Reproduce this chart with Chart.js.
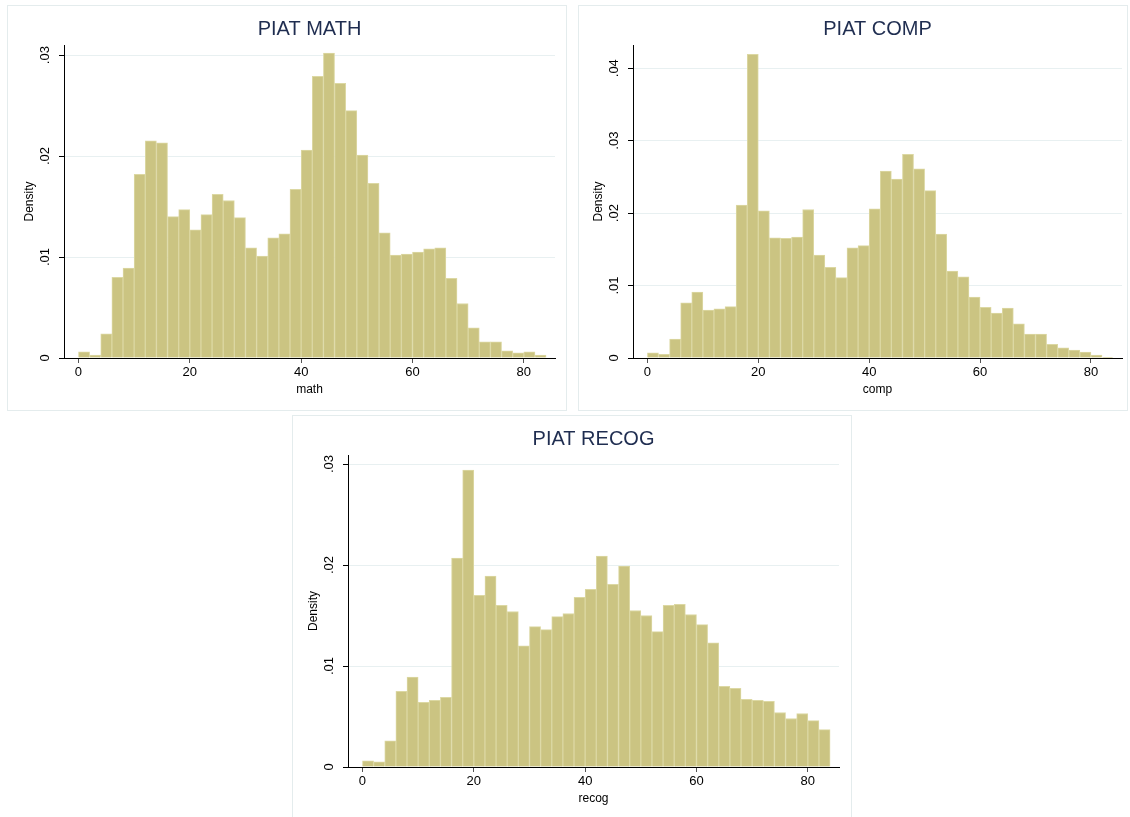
<!DOCTYPE html>
<html lang="en">
<head>
<meta charset="UTF-8" />
<title>PIAT histograms</title>
<script src="https://cdn.jsdelivr.net/npm/chart.js"></script>
<style>
  body { margin: 0; background: #fff; width: 1130px; height: 817px; position: relative; overflow: hidden; }
  .panel { position: absolute; border: 1px solid #e4eced; box-sizing: border-box; background: #fff; }
  .panel canvas { position: absolute; left: 0; top: 0; }
</style>
</head>
<body>
<div class="panel" id="p1" style="left:7px;top:5px;width:560px;height:406px"><canvas id="mathChart" width="560" height="406"></canvas></div>
<div class="panel" id="p2" style="left:578px;top:5px;width:550px;height:406px"><canvas id="compChart" width="550" height="406"></canvas></div>
<div class="panel" id="p3" style="left:292px;top:415px;width:560px;height:410px"><canvas id="recogChart" width="560" height="410"></canvas></div>
<script>
// bin left edges (width 2)
const binStarts = [0, 2, 4, 6, 8, 10, 12, 14, 16, 18, 20, 22, 24, 26, 28, 30, 32, 34, 36, 38, 40,
  42, 44, 46, 48, 50, 52, 54, 56, 58, 60, 62, 64, 66, 68, 70, 72, 74, 76, 78, 80, 82];
const binWidth = 2;

const mathDensity = [0.0006, 0.0003, 0.0024, 0.0080, 0.0089, 0.0182, 0.0215, 0.0213, 0.0140, 0.0147,
  0.0127, 0.0142, 0.0162, 0.0156, 0.0139, 0.0109, 0.0101, 0.0119, 0.0123, 0.0167,
  0.0206, 0.0279, 0.0302, 0.0272, 0.0245, 0.0201, 0.0173, 0.0124, 0.0102, 0.0103,
  0.0105, 0.0108, 0.0109, 0.0079, 0.0054, 0.0030, 0.0016, 0.0016, 0.0007, 0.0005,
  0.0006, 0.0003];
const compDensity = [0.0007, 0.0005, 0.0026, 0.0076, 0.0091, 0.0066, 0.0068, 0.0071, 0.0211, 0.0419,
  0.0203, 0.0166, 0.0165, 0.0167, 0.0205, 0.0142, 0.0125, 0.0111, 0.0152, 0.0155,
  0.0206, 0.0258, 0.0247, 0.0281, 0.0261, 0.0231, 0.0171, 0.0120, 0.0112, 0.0084,
  0.0070, 0.0062, 0.0069, 0.0047, 0.0033, 0.0033, 0.0019, 0.0014, 0.0011, 0.0008,
  0.0004, 0.0001];
const recogDensity = [0.0006, 0.0005, 0.0026, 0.0075, 0.0089, 0.0064, 0.0066, 0.0069, 0.0207, 0.0294,
  0.0170, 0.0189, 0.0160, 0.0154, 0.0120, 0.0139, 0.0136, 0.0149, 0.0152, 0.0168,
  0.0176, 0.0209, 0.0181, 0.0199, 0.0155, 0.0150, 0.0134, 0.0160, 0.0161, 0.0151,
  0.0141, 0.0123, 0.0080, 0.0078, 0.0067, 0.0066, 0.0065, 0.0054, 0.0048, 0.0053,
  0.0046, 0.0037];

const xTicks = [0, 20, 40, 60, 80];
const yTicks3 = [0, 0.01, 0.02, 0.03];
const yTicks4 = [0, 0.01, 0.02, 0.03, 0.04];
const yTickLabels = ['0', '.01', '.02', '.03', '.04'];

const barFill = '#cbc482';
const barEdge = '#dcd8a3';
const gridColor = '#e8f0f1';
const titleColor = '#1f2d50';
const fontFamily = '"Liberation Sans", Arial, sans-serif';

function makeChart(id, title, xLabel, density, yTicks, yMax, pad) {
  const points = binStarts.map((s, i) => ({ x: s + binWidth / 2, y: density[i] }));
  return new Chart(document.getElementById(id), {
    type: 'bar',
    data: {
      datasets: [{
        data: points,
        backgroundColor: barFill,
        borderColor: barEdge,
        borderWidth: 1,
        barPercentage: 1,
        categoryPercentage: 1,
      }],
    },
    options: {
      responsive: false,
      animation: false,
      layout: { padding: pad },
      plugins: {
        legend: { display: false },
        tooltip: { enabled: false },
        title: {
          display: true,
          fullSize: false,
          text: title,
          color: titleColor,
          font: { family: fontFamily, size: 20, weight: 'normal' },
          padding: { top: 11, bottom: 4 },
        },
      },
      scales: {
        x: {
          type: 'linear',
          offset: false,
          min: -2.6,
          max: 85.6,
          afterBuildTicks: (s) => { s.ticks = xTicks.map((v) => ({ value: v })); },
          afterFit: (s) => { s.height = 46; },
          ticks: { color: '#000', font: { family: fontFamily, size: 13 }, padding: 2, maxRotation: 0 },
          grid: { offset: false, drawOnChartArea: false, tickColor: '#555', tickLength: 5 },
          border: { display: true, color: '#000', width: 1 },
          title: {
            display: true, text: xLabel, color: '#000',
            font: { family: fontFamily, size: 12 },
            padding: { top: 0, bottom: 7 },
          },
        },
        y: {
          min: 0,
          max: yMax,
          afterBuildTicks: (s) => { s.ticks = yTicks.map((v) => ({ value: v })); },
          afterFit: (s) => { s.width = 50; },
          ticks: {
            color: '#000',
            font: { family: fontFamily, size: 13 },
            minRotation: 90,
            maxRotation: 90,
            crossAlign: 'center',
            padding: 5,
            callback: (v) => yTickLabels[yTicks.indexOf(v)],
          },
          grid: {
            color: (ctx) => (ctx.tick && ctx.tick.value === 0 ? 'rgba(0,0,0,0)' : gridColor),
            tickColor: '#000',
            tickLength: 5,
          },
          border: { display: true, color: '#000', width: 1 },
          title: {
            display: true, text: 'Density', color: '#000',
            font: { family: fontFamily, size: 12 },
            padding: { top: 8, bottom: 0 },
          },
        },
      },
    },
  });
}

makeChart('mathChart', 'PIAT MATH', 'math', mathDensity, yTicks3, 0.031,
  { left: 6, right: 13, top: 0, bottom: 8 });
makeChart('compChart', 'PIAT COMP', 'comp', compDensity, yTicks4, 0.0432,
  { left: 4, right: 7, top: 0, bottom: 8 });
makeChart('recogChart', 'PIAT RECOG', 'recog', recogDensity, yTicks3, 0.0309,
  { left: 5, right: 14, top: 0, bottom: 13 });
</script>
</body>
</html>
